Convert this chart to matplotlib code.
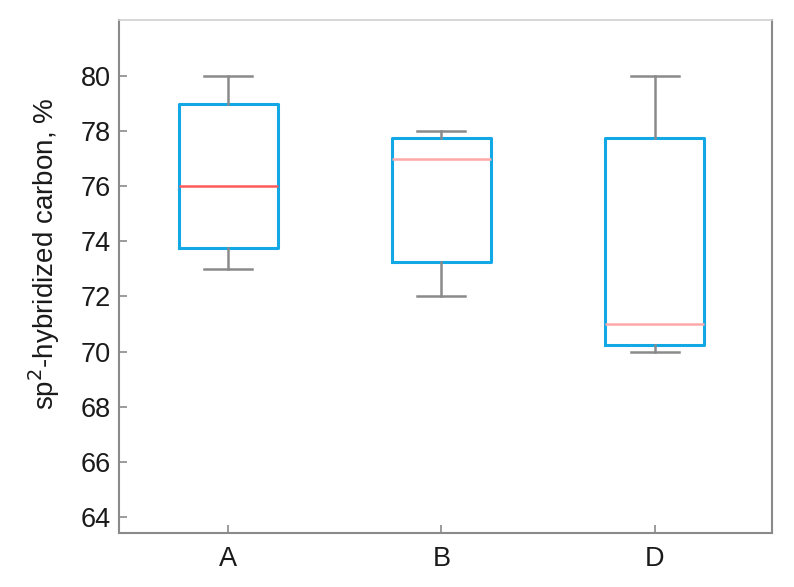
import matplotlib
matplotlib.use("Agg")
import matplotlib.pyplot as plt

plt.rcParams['font.family'] = ['Liberation Sans', 'DejaVu Sans']

categories = ["A", "B", "D"]
whislo = [73.0, 72.0, 70.0]
q1 = [73.75, 73.25, 70.25]
med = [76.0, 77.0, 71.0]
q3 = [79.0, 77.75, 77.75]
whishi = [80.0, 78.0, 80.0]
median_colors = ["#FF5A5A", "#FFA8A8", "#FFA8A8"]

fig = plt.figure(figsize=(7.94, 5.87), dpi=100)
ax = fig.add_axes([119/794, 1 - 533/587, (772-119)/794, (533-20)/587])

stats = []
for i, c in enumerate(categories):
    stats.append(dict(label=c, whislo=whislo[i], q1=q1[i], med=med[i],
                      q3=q3[i], whishi=whishi[i], fliers=[]))

bp = ax.bxp(stats, positions=[1, 2, 3], widths=0.465, showfliers=False,
            boxprops=dict(color="#12A8E6", linewidth=2.2),
            whiskerprops=dict(color="#8A8A8A", linewidth=1.8),
            capprops=dict(color="#8A8A8A", linewidth=1.8),
            medianprops=dict(linewidth=1.8))
for m, col in zip(bp['medians'], median_colors):
    m.set_color(col)
for cap in bp['caps']:
    x = cap.get_xdata()
    cx = (x[0] + x[1]) / 2
    cap.set_xdata([cx - 0.1125, cx + 0.1125])

ax.set_xlim(0.488, 3.55)
ax.set_ylim(63.42, 82.03)
ax.set_yticks([64, 66, 68, 70, 72, 74, 76, 78, 80])
ax.set_xticks([1, 2, 3])
ax.set_xticklabels(categories)
ax.tick_params(direction='in', length=6, width=1.2, color="#8A8A8A",
               labelsize=19.5, labelcolor="#1a1a1a")
ax.tick_params(axis='x', pad=9)
ax.tick_params(axis='y', pad=6)
for s in ['left', 'bottom', 'right']:
    ax.spines[s].set_color("#8A8A8A")
    ax.spines[s].set_linewidth(1.5)
ax.spines['top'].set_color("#D0D0D0")
ax.spines['top'].set_linewidth(1.2)
ax.set_ylabel("sp$^2$-hybridized carbon, %", fontsize=20, color="#1a1a1a")
ax.yaxis.set_label_coords(-0.087, 0.544)

fig.savefig("out.png", dpi=100)
